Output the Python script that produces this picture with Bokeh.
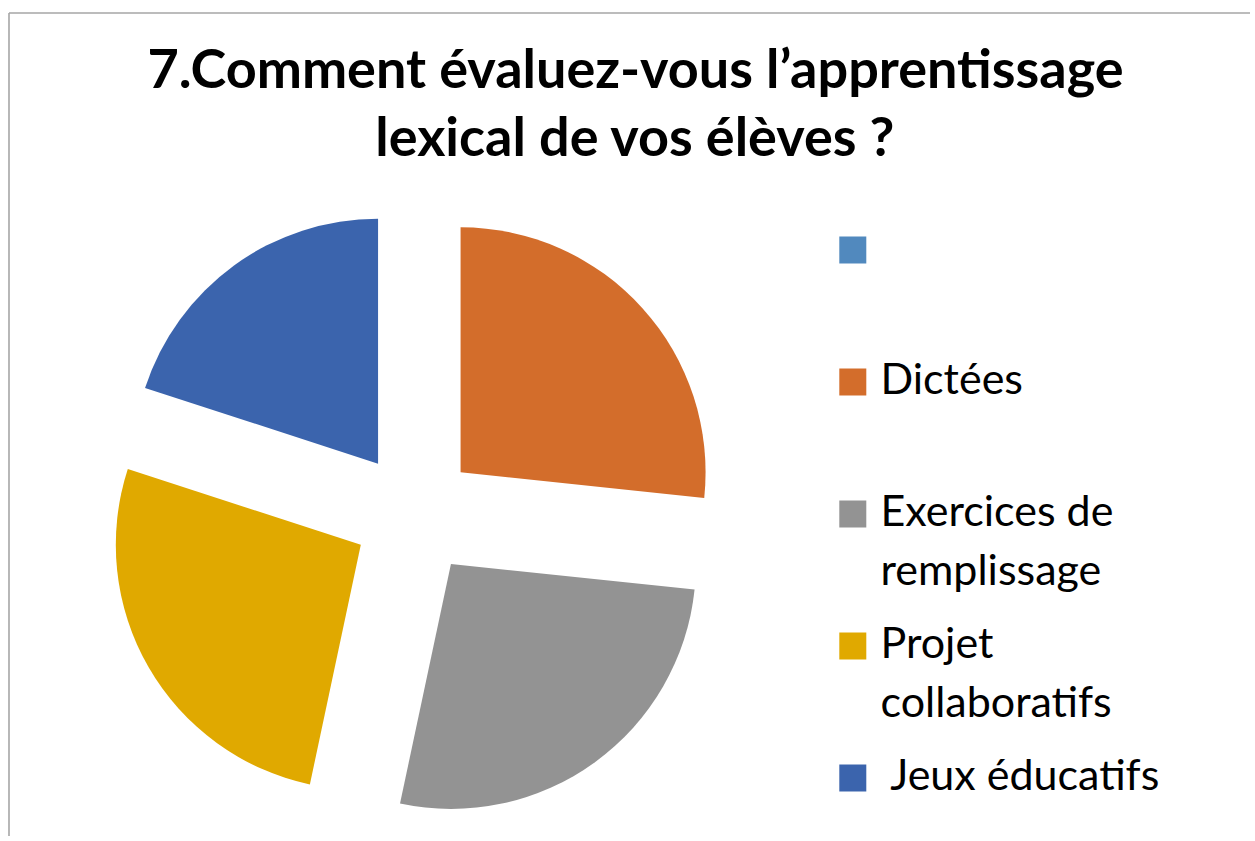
import math
from bokeh.plotting import figure
from bokeh.models import Range1d, ColumnDataSource
from bokeh.core.properties import value
from bokeh.embed import file_html
from bokeh.resources import INLINE

# ---- data ----
title_lines = ["7.Comment évaluez-vous l’apprentissage", "lexical de vos élèves ?"]
categories = ["", "Dictées", "Exercices de remplissage", "Projet collaboratifs", " Jeux éducatifs"]
legend_lines = [[""], ["Dictées"], ["Exercices de", "remplissage"], ["Projet", "collaboratifs"], [" Jeux éducatifs"]]
counts = [0, 4, 4, 4, 3]
colors = ["#5189BE", "#D36D2B", "#939393", "#E0A900", "#3B64AD"]

# ---- layout (page pixel coords -> data coords: x = px, y = 841 - py) ----
W, H = 1250, 836
PAGE_H = 841
def Y(py):
    return PAGE_H - py

p = figure(width=W, height=H, output_backend="svg", toolbar_location=None,
           x_range=Range1d(0, W), y_range=Range1d(PAGE_H - H, PAGE_H),
           min_border=0, outline_line_color=None)
p.axis.visible = False
p.grid.visible = False
p.background_fill_color = "white"
p.border_fill_color = "white"

# chart-area border (left and top edges visible)
p.segment(x0=[8.5, 8.5], y0=[Y(12.5), Y(12.5)], x1=[1300, 8.5], y1=[Y(12.5), Y(900)],
          line_color="#A6A6A6", line_width=1.6)

# ---- exploded pie ----
cx, cy = 414, Y(513.3)
R = 245
D = 62
total = sum(counts)
xs, ys, sa, ea, cols = [], [], [], [], []
cum = 0
for c, col in zip(counts, colors):
    start = 90 - cum / total * 360
    cum += c
    end = 90 - cum / total * 360
    if c == 0:
        continue
    mid = math.radians((start + end) / 2)
    xs.append(cx + D * math.cos(mid))
    ys.append(cy + D * math.sin(mid))
    sa.append(math.radians(start))
    ea.append(math.radians(end))
    cols.append(col)
src = ColumnDataSource(dict(x=xs, y=ys, sa=sa, ea=ea, color=cols))
p.wedge(x="x", y="y", radius=R, start_angle="sa", end_angle="ea", direction="clock",
        fill_color="color", line_color=None, source=src)

# ---- title ----
TS = 54
tb = [89, 157]
p.text(x=[635, 635], y=[Y(b - 0.4 * TS) for b in tb], text=title_lines,
       text_font=value("Lato"), text_font_style="bold", text_font_size=f"{TS}px",
       text_align="center", text_baseline="alphabetic", text_color="black")

# ---- legend ----
LS = 43
sq_y0 = 249.5
step = 132
lx, ly, lt = [], [], []
for i, lines in enumerate(legend_lines):
    yc = sq_y0 + i * step
    for j, t in enumerate(lines):
        lx.append(880)
        ly.append(Y(yc + 12.7 + j * 59 - 0.4 * LS))
        lt.append(t.replace(" ", "\u00a0", 1) if t.startswith(" ") else t)
p.rect(x=[852.3] * len(colors), y=[Y(sq_y0 + i * step) for i in range(len(colors))],
       width=27, height=27, fill_color=colors, line_color=None)
p.text(x=lx, y=ly, text=lt, text_font=value("Lato"), text_font_size=f"{LS}px",
       text_align="left", text_baseline="alphabetic", text_color="black")

open("out.html", "w").write(file_html(p, INLINE))
